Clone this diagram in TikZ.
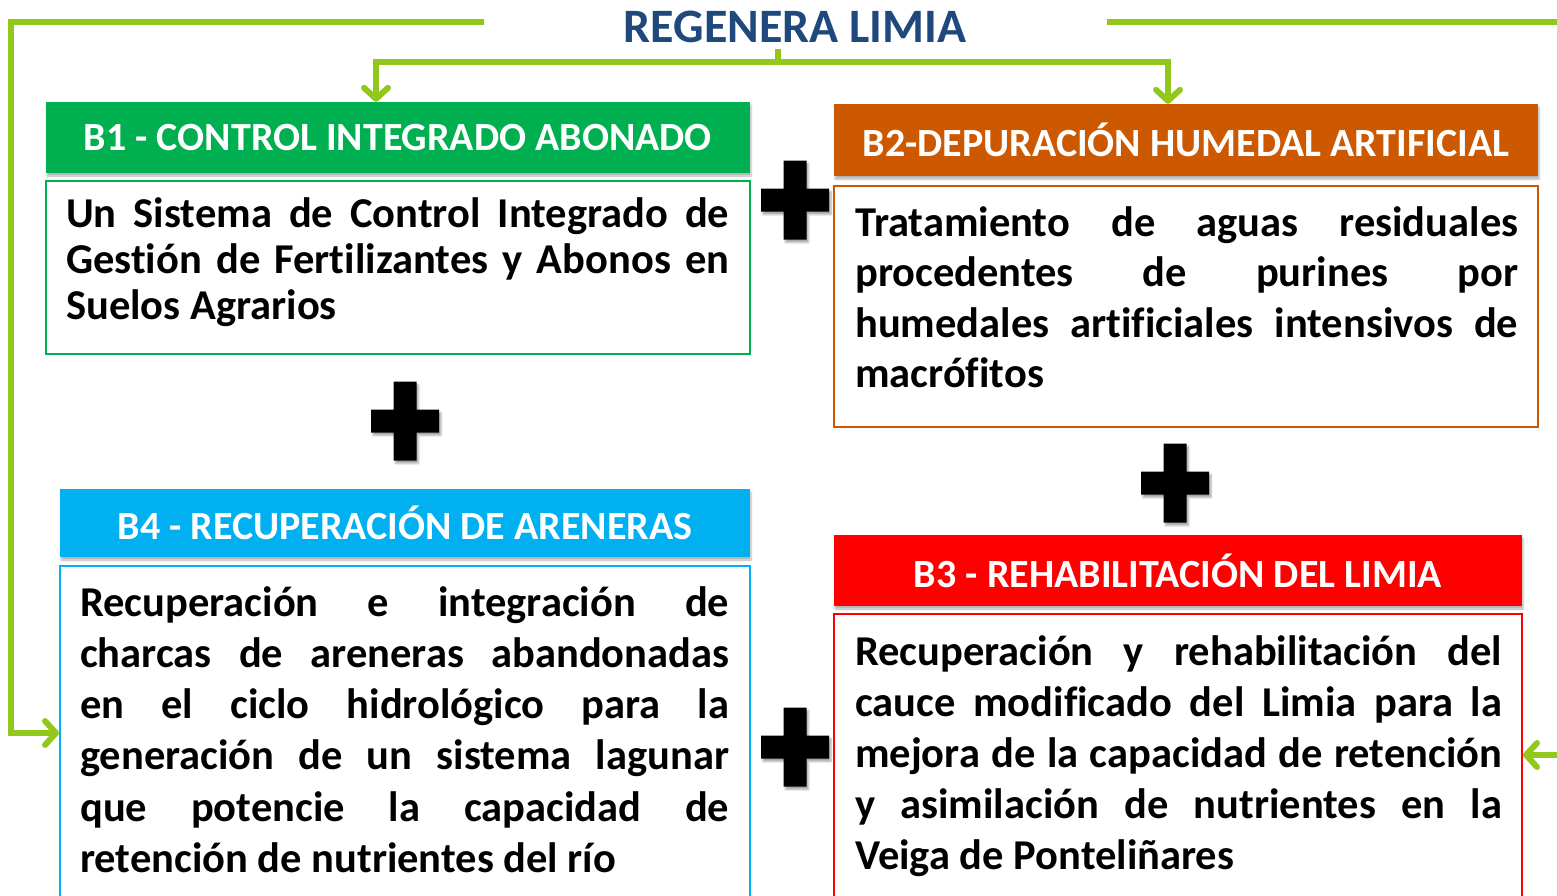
\documentclass[tikz,border=0pt]{standalone}
\usepackage{fontspec}
\setmainfont{Carlito}[Ligatures=NoCommon]
\usetikzlibrary{arrows.meta,shadows.blur}
\definecolor{verdeB1}{RGB}{0,176,80}
\definecolor{naranjaB2}{RGB}{204,88,0}
\definecolor{azulB4}{RGB}{0,176,240}
\definecolor{rojoB3}{RGB}{255,0,0}
\definecolor{verdelinea}{RGB}{146,200,28}
\definecolor{azultitulo}{RGB}{31,73,125}
\def\cruz(#1){\fill[black, shift={(#1)}, blur shadow={shadow xshift=2pt, shadow yshift=-3pt, shadow opacity=35}] (-11.5,-39.5) -- (11.5,-39.5) -- (11.5,-11.5) -- (34,-11.5) -- (34,11.5) -- (11.5,11.5) -- (11.5,39.5) -- (-11.5,39.5) -- (-11.5,11.5) -- (-34,11.5) -- (-34,-11.5) -- (-11.5,-11.5) -- cycle;}
\newcommand\jl[1]{{\spaceskip=0pt\xspaceskip=0pt\makebox[\linewidth][s]{#1}}\\}
\newcommand\ultima[1]{{\spaceskip=0pt\xspaceskip=0pt #1}}

\begin{document}
\begin{tikzpicture}[x=1pt, y=-1pt,
	cabecera/.style={rectangle, inner sep=0pt, text=white, font=\bfseries\fontsize{40pt}{46pt}\selectfont, blur shadow={shadow xshift=1pt, shadow yshift=-3pt, shadow opacity=30}},
	cuerpo/.style={rectangle, inner sep=0pt, line width=2pt, fill=white},
	texto/.style={inner sep=0pt, anchor=base west, align=left},
	linea/.style={draw=verdelinea, line width=6pt},
	flecha/.style={linea, -{Straight Barb[length=11pt, width=24pt, round]}}]
			%%%%% START %%%%%
			
			\useasboundingbox (0,0) rectangle (1557,895);
			\clip (0,0) rectangle (1557,895);
			
			\node[font=\bfseries\fontsize{48pt}{56pt}\selectfont, text=azultitulo, inner sep=0pt] (titulo) at (795,27) {REGENERA LIMIA};
			
			\node[cabecera, fill=verdeB1, minimum width=704pt, minimum height=71pt] (b1cab) at (398,137.5) {B1 - CONTROL INTEGRADO ABONADO};
			\node[cuerpo, draw=verdeB1, minimum width=704pt, minimum height=173pt] (b1cuerpo) at (398,267.5) {};
			
			\node[cabecera, fill=naranjaB2, minimum width=704pt, minimum height=72pt] (b2cab) at (1186,140) {B2-DEPURACIÓN HUMEDAL ARTIFICIAL};
			\node[cuerpo, draw=naranjaB2, minimum width=704pt, minimum height=241pt] (b2cuerpo) at (1186,306.5) {};
			
			\node[cabecera, fill=azulB4, minimum width=690pt, minimum height=68pt] (b4cab) at (405,523) {B4 - RECUPERACIÓN DE ARENERAS};
			\node[cuerpo, draw=azulB4, minimum width=690pt, minimum height=340pt] (b4cuerpo) at (405,736) {};
			
			\node[cabecera, fill=rojoB3, minimum width=688pt, minimum height=71pt] (b3cab) at (1178,570.5) {B3 - REHABILITACIÓN DEL LIMIA};
			\node[cuerpo, draw=rojoB3, minimum width=688pt, minimum height=286pt] (b3cuerpo) at (1178,757) {};
			
			\node[texto, text width=663pt, font=\bfseries\fontsize{42.5pt}{46pt}\selectfont] (b1texto) at (66,227) {\jl{Un Sistema de Control Integrado de}\jl{Gestión de Fertilizantes y Abonos en}\ultima{Suelos Agrarios}};
			
			\node[texto, text width=663pt, font=\bfseries\fontsize{42.5pt}{50.5pt}\selectfont] (b2texto) at (855,236) {\jl{Tratamiento de aguas residuales}\jl{procedentes de purines por}\jl{humedales artificiales intensivos de}\ultima{macrófitos}};
			
			\node[texto, text width=649pt, font=\bfseries\fontsize{42.5pt}{51.3pt}\selectfont] (b4texto) at (80,616) {\jl{Recuperación e integración de}\jl{charcas de areneras abandonadas}\jl{en el ciclo hidrológico para la}\jl{generación de un sistema lagunar}\jl{que potencie la capacidad de}\ultima{retención de nutrientes del río}};
			
			\node[texto, text width=647pt, font=\bfseries\fontsize{42.5pt}{51pt}\selectfont] (b3texto) at (855,665) {\jl{Recuperación y rehabilitación del}\jl{cauce modificado del Limia para la}\jl{mejora de la capacidad de retención}\jl{y asimilación de nutrientes en la}\ultima{Veiga de Ponteliñares}};
			
			\cruz(795,200);
			\cruz(405,421);
			\cruz(1175,483);
			\cruz(795,747);
			
			\coordinate (nudo) at (778,62);
			\coordinate (izq) at (484,22);
			\coordinate (der) at (1107,22);
			\coordinate (borde) at (1570,755);
			
			\draw[linea, shorten <=6pt] (titulo.south -| nudo) -- (nudo);
			\draw[flecha] (nudo) -| (b1cab.north -| 376,0);
			\draw[flecha] (nudo) -| (b2cab.north -| 1168,0);
			\draw[flecha] (izq) -- (11,22) |- (b4cuerpo.west |- 0,733);
			\draw[linea] (der) -- (1570,22);
			\draw[flecha] (borde) -- (b3cuerpo.east |- borde);
			
			%%%%% END %%%%%
\end{tikzpicture}
\end{document}
